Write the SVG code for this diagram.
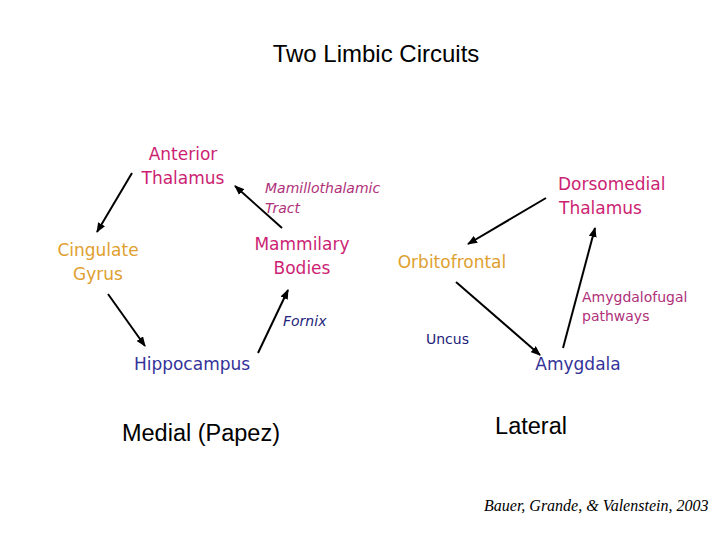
<svg xmlns="http://www.w3.org/2000/svg" width="720" height="540" viewBox="0 0 720 540">
<defs><marker id="a" markerWidth="10" markerHeight="8" refX="9" refY="4" orient="auto" markerUnits="userSpaceOnUse"><path d="M0,0 L10,4 L0,8 Z" fill="#000"/></marker>
<style>
text{font-family:"DejaVu Sans",Verdana,sans-serif;text-anchor:middle}
.m{fill:#CC1F73;font-size:17px}.o{fill:#E0A030;font-size:17px}.b{fill:#333399;font-size:17px}
.mi{fill:#B0307A;font-size:14px;font-style:italic;text-anchor:start}
.s{font-size:14px;text-anchor:start}
.l{stroke:#000;stroke-width:2;marker-end:url(#a)}
.h{font-family:"Liberation Sans",Arial,sans-serif;font-size:23.5px;fill:#000}
</style></defs>
<rect width="720" height="540" fill="#fff"/>
<text class="h" x="376" y="62" style="font-size:24px">Two Limbic Circuits</text>
<g id="anterior-thalamus"><text class="m" x="183" y="160">Anterior</text><text class="m" x="183" y="184">Thalamus</text></g>
<g id="cingulate-gyrus"><text class="o" x="98" y="256">Cingulate</text><text class="o" x="98" y="280">Gyrus</text></g>
<g id="mammilary-bodies"><text class="m" x="302" y="250">Mammilary</text><text class="m" x="302" y="274">Bodies</text></g>
<g id="hippocampus"><text class="b" x="192" y="370">Hippocampus</text></g>
<g id="dorsomedial-thalamus"><text class="m" x="558" y="190" style="text-anchor:start">Dorsomedial</text><text class="m" x="559" y="214" style="text-anchor:start">Thalamus</text></g>
<g id="orbitofrontal"><text class="o" x="452" y="268">Orbitofrontal</text></g>
<g id="amygdala"><text class="b" x="578" y="370">Amygdala</text></g>
<g id="labels">
<text class="mi" x="265" y="193">Mamillothalamic</text><text class="mi" x="265" y="213">Tract</text>
<text class="b s" x="283" y="326" style="font-style:italic;fill:#22227A">Fornix</text>
<text class="b s" x="426" y="344" style="fill:#22227A">Uncus</text>
<text class="s" x="582" y="302" style="fill:#B0307A">Amygdalofugal</text><text class="s" x="582" y="321" style="fill:#B0307A">pathways</text>
<text class="h" x="201" y="441">Medial (Papez)</text>
<text class="h" x="531" y="434">Lateral</text>
<text x="484" y="511" style="font-family:'Liberation Serif',serif;font-style:italic;font-size:16px;text-anchor:start">Bauer, Grande, &amp; Valenstein, 2003</text>
</g>
<g id="connectors">
<line class="l" x1="132" y1="173" x2="97" y2="232"/>
<line class="l" x1="108" y1="294" x2="145" y2="346"/>
<line class="l" x1="258" y1="353" x2="288" y2="290"/>
<line class="l" x1="282" y1="228" x2="235" y2="186"/>
<line class="l" x1="546" y1="198" x2="468" y2="244"/>
<line class="l" x1="456" y1="282" x2="540" y2="355"/>
<line class="l" x1="563" y1="348" x2="595" y2="228"/>
</g>
</svg>
